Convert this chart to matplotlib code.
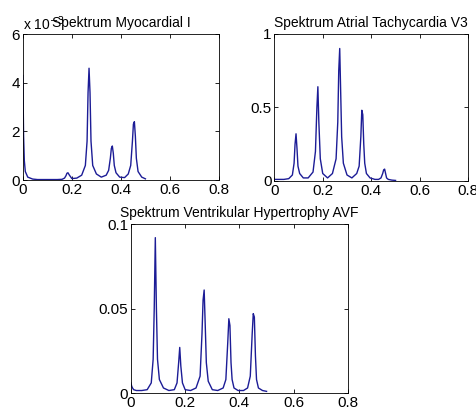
import matplotlib
matplotlib.use("Agg")
import matplotlib.pyplot as plt

# shared frequency points (normalised)
freq = [0, 0.003, 0.006, 0.01, 0.02, 0.04, 0.06, 0.075, 0.082, 0.086, 0.09, 0.094,
        0.098, 0.105, 0.12, 0.14, 0.16, 0.17, 0.176, 0.18, 0.184, 0.19, 0.2, 0.22,
        0.24, 0.255, 0.262, 0.266, 0.27, 0.274, 0.278, 0.285, 0.3, 0.32, 0.34, 0.35,
        0.357, 0.361, 0.365, 0.369, 0.373, 0.38, 0.395, 0.415, 0.43, 0.44, 0.447,
        0.451, 0.455, 0.459, 0.463, 0.47, 0.485, 0.5]

# Myocardial I (x 1e-3)
myo = [4.3, 1.8, 0.8, 0.35, 0.12, 0.04, 0.02, 0.02, 0.02, 0.02, 0.02, 0.02,
       0.02, 0.02, 0.02, 0.02, 0.03, 0.08, 0.18, 0.28, 0.3, 0.2, 0.06, 0.08,
       0.2, 0.6, 1.6, 3.6, 4.6, 3.6, 1.6, 0.6, 0.25, 0.12, 0.2, 0.4,
       0.9, 1.3, 1.4, 1.1, 0.6, 0.3, 0.12, 0.1, 0.25, 0.6, 1.6,
       2.3, 2.4, 1.8, 0.9, 0.35, 0.12, 0.05]

# Atrial Tachycardia V3
atrial = [0.01, 0.01, 0.01, 0.01, 0.01, 0.01, 0.015, 0.04, 0.12, 0.25, 0.32, 0.22,
          0.1, 0.05, 0.02, 0.02, 0.06, 0.2, 0.5, 0.64, 0.4, 0.15, 0.05, 0.02,
          0.05, 0.15, 0.4, 0.75, 0.9, 0.6, 0.3, 0.12, 0.04, 0.02, 0.05, 0.1,
          0.3, 0.48, 0.45, 0.25, 0.12, 0.05, 0.02, 0.01, 0.01, 0.02, 0.05,
          0.075, 0.08, 0.05, 0.02, 0.01, 0.005, 0.003]

# Ventrikular Hypertrophy AVF
ventr = [0.006, 0.004, 0.003, 0.002, 0.0015, 0.0015, 0.002, 0.006, 0.02, 0.05, 0.092, 0.05,
         0.02, 0.008, 0.003, 0.0015, 0.002, 0.006, 0.018, 0.027, 0.016, 0.006, 0.002, 0.0015,
         0.003, 0.01, 0.035, 0.055, 0.061, 0.04, 0.018, 0.007, 0.002, 0.0015, 0.003, 0.008,
         0.03, 0.044, 0.04, 0.018, 0.008, 0.003, 0.0015, 0.0015, 0.003, 0.01, 0.035,
         0.047, 0.045, 0.022, 0.008, 0.003, 0.0015, 0.001]

plt.rcParams["font.family"] = ["Liberation Sans", "DejaVu Sans"]
line_color = "#1c1c96"

fig = plt.figure(figsize=(4.76, 4.12), dpi=100)
ax1 = fig.add_axes([0.048, 0.563, 0.412, 0.354])
ax2 = fig.add_axes([0.576, 0.561, 0.408, 0.357])
ax3 = fig.add_axes([0.275, 0.046, 0.456, 0.41])


def style(ax, yticks, ylabels, title):
    ax.set_xlim(0, 0.8)
    ax.set_xticks([0, 0.2, 0.4, 0.6, 0.8])
    ax.set_xticklabels(["0", "0.2", "0.4", "0.6", "0.8"])
    ax.set_yticks(yticks)
    ax.set_yticklabels(ylabels)
    ax.set_ylim(yticks[0], yticks[-1])
    ax.tick_params(direction="in", top=True, right=True, labelsize=11,
                   length=3, width=0.6, pad=2)
    for s in ax.spines.values():
        s.set_linewidth(0.6)
    ax.set_title(title, fontsize=10, pad=5)


ax1.plot(freq, myo, color=line_color, lw=1)
style(ax1, [0, 2, 4, 6], ["0", "2", "4", "6"], "Spektrum Myocardial I")
ax1.text(0.0, 1.01, r"x 10$^{-3}$", transform=ax1.transAxes, fontsize=10,
         ha="left", va="bottom")

ax2.plot(freq, atrial, color=line_color, lw=1)
style(ax2, [0, 0.5, 1], ["0", "0.5", "1"], "Spektrum Atrial Tachycardia V3")

ax3.plot(freq, ventr, color=line_color, lw=1)
style(ax3, [0, 0.05, 0.1], ["0", "0.05", "0.1"], "Spektrum Ventrikular Hypertrophy AVF")

fig.savefig("out.png", dpi=100)
